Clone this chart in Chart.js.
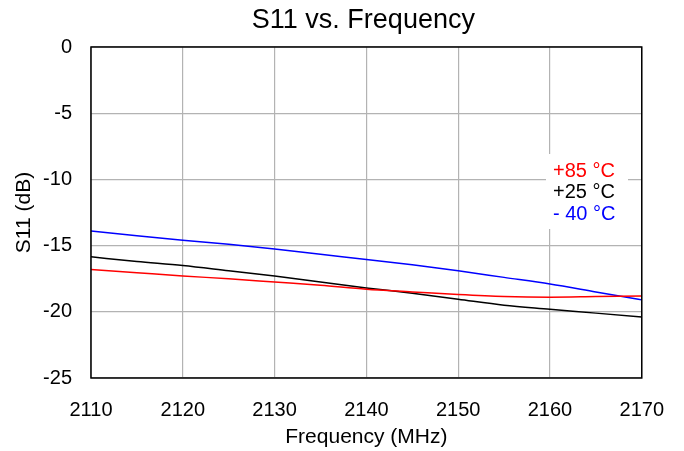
<!DOCTYPE html>
<html><head><meta charset="utf-8">
<script src="https://cdn.jsdelivr.net/npm/chart.js@4"></script>
<style>html,body{margin:0;padding:0;background:#fff}#w{width:684px;height:451px}</style>
</head><body><div id="w"><canvas id="c"></canvas></div>
<script>
const freqs = [2110,2115,2120,2125,2130,2135,2140,2145,2150,2155,2160,2165,2170];
const s11Hot = [-16.8,-17.05,-17.3,-17.5,-17.75,-18.0,-18.3,-18.5,-18.7,-18.85,-18.9,-18.85,-18.8];
const s11Room = [-15.85,-16.2,-16.5,-16.9,-17.3,-17.75,-18.2,-18.6,-19.05,-19.5,-19.8,-20.1,-20.4];
const s11Cold = [-13.9,-14.25,-14.6,-14.9,-15.25,-15.65,-16.05,-16.45,-16.9,-17.4,-17.9,-18.5,-19.1];
const legendLabels = ['+85 °C','+25 °C','- 40 °C'];
const chartTitle = 'S11 vs. Frequency';
const FONT = '"Liberation Sans", Arial, sans-serif';

const mk = (arr)=>freqs.map((f,i)=>({x:f,y:arr[i]}));
const legendColors = ['#ff0000','#000000','#0000ff'];

const overlay = {
  id:'overlay',
  afterDatasetsDraw(chart){
    const {ctx, chartArea:a} = chart;
    ctx.save();
    ctx.fillStyle='#fff';
    ctx.fillRect(546,154,82,75);
    ctx.font='20px '+FONT;
    ctx.textBaseline='middle';
    ctx.textAlign='left';
    const ys=[171,192,214];
    legendLabels.forEach((t,i)=>{ctx.fillStyle=legendColors[i];ctx.fillText(t,553,ys[i]);});
    ctx.strokeStyle='#000';ctx.lineWidth=1.5;
    ctx.strokeRect(a.left,a.top,a.right-a.left,a.bottom-a.top);
    ctx.fillStyle='#000';
    ctx.font='27px '+FONT;
    ctx.textAlign='center';
    ctx.fillText(chartTitle,(a.left+a.right)/2-3,21);
    ctx.restore();
  }
};

new Chart(document.getElementById('c'),{
  type:'line',
  data:{datasets:[
    {label:legendLabels[0],data:mk(s11Hot),borderColor:'#ff0000',borderWidth:1.5,pointRadius:0,cubicInterpolationMode:'monotone'},
    {label:legendLabels[1],data:mk(s11Room),borderColor:'#000000',borderWidth:1.5,pointRadius:0,cubicInterpolationMode:'monotone'},
    {label:legendLabels[2],data:mk(s11Cold),borderColor:'#0000ff',borderWidth:1.5,pointRadius:0,cubicInterpolationMode:'monotone'}
  ]},
  options:{
    responsive:true,maintainAspectRatio:false,animation:false,
    layout:{padding:{left:0,right:38,top:47,bottom:0}},
    plugins:{
      legend:{display:false},tooltip:{enabled:false},title:{display:false}
    },
    scales:{
      x:{type:'linear',min:2110,max:2170,
        ticks:{stepSize:10,color:'#000',font:{family:FONT,size:20},padding:20,maxRotation:0,callback:v=>String(v)},
        grid:{color:'#b3b3b3',lineWidth:1.2,drawTicks:false},border:{display:false},
        title:{display:true,text:'Frequency (MHz)',color:'#000',font:{family:FONT,size:21},padding:{top:0,bottom:1.4}},
        afterFit(s){s.height=451-378;}
      },
      y:{min:-25,max:0,
        ticks:{stepSize:5,color:'#000',font:{family:FONT,size:20},padding:19},
        grid:{color:'#b3b3b3',lineWidth:1.2,drawTicks:false},border:{display:false},
        title:{display:true,text:'S11 (dB)',color:'#000',font:{family:FONT,size:21},padding:{top:12,bottom:0}},
        afterFit(s){s.width=91;}
      }
    }
  },
  plugins:[overlay]
});
</script></body></html>
